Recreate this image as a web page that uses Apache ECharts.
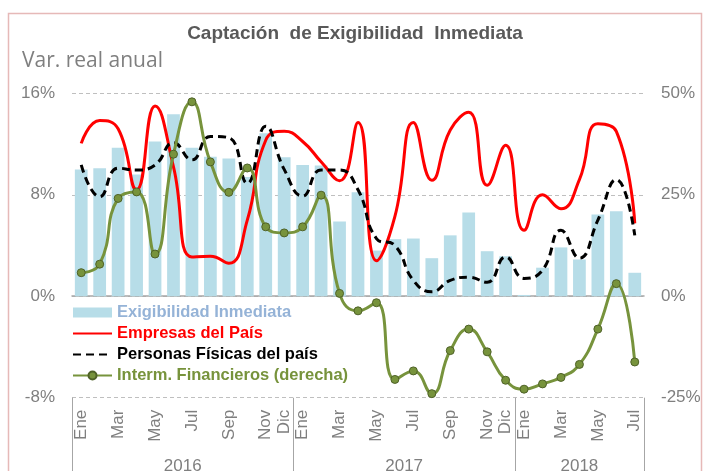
<!DOCTYPE html>
<html>
<head>
<meta charset="utf-8">
<script src="https://cdn.jsdelivr.net/npm/echarts@6/dist/echarts.min.js"></script>
<style>
  html, body { margin: 0; padding: 0; background: #fff; }
  #chart { width: 710px; height: 471px; }
</style>
</head>
<body>
<div id="chart"></div>
<script>
const years = ['2016', '2017', '2018']
const monthsPerYear = [12, 12, 7]
const monthNames = ['Ene', 'Feb', 'Mar', 'Abr', 'May', 'Jun', 'Jul', 'Ago', 'Sep', 'Oct', 'Nov', 'Dic']

const exigibilidad = [
  10.0, 10.1, 11.7, 9.6, 12.2, 14.35, 11.7, 11.0, 10.85, 9.4, 12.85, 10.95,
  10.35, 10.3, 5.9, 8.2, 3.6, 4.5, 4.55, 3.0, 4.8, 6.6, 3.55, 3.15,
  0.1, 2.25, 3.85, 2.9, 6.45, 6.7, 1.85
]
const empresas = [
  12.05, 13.85, 13.2, 8.4, 15.0, 10.2, 3.1, 3.15, 2.6, 6.0, 12.3, 13.0,
  12.2, 10.6, 9.1, 13.7, 2.8, 6.3, 13.7, 9.15, 13.1, 14.5, 8.75, 11.9,
  5.2, 8.0, 6.9, 9.2, 13.6, 13.0, 5.75
]
const personas = [
  10.35, 7.85, 10.1, 9.95, 10.35, 12.1, 10.75, 12.6, 12.5, 8.9, 13.4, 10.0,
  7.9, 9.95, 9.95, 8.4, 4.55, 4.0, 1.25, 0.35, 1.25, 1.5, 1.1, 3.1,
  1.4, 2.05, 5.2, 3.0, 6.0, 9.2, 4.8
]
const intermediarios = [
  5.8, 7.9, 24.1, 25.7, 10.4, 35.0, 47.9, 33.1, 25.6, 31.6, 17.1, 15.6,
  17.1, 24.9, 0.7, -3.6, -1.6, -20.5, -18.4, -24.0, -13.4, -8.1, -13.7, -20.7,
  -22.9, -21.6, -20.0, -16.8, -8.1, 3.1, -16.2
]

const leftTicks = { min: -8, max: 16, interval: 8 }
const rightTicks = { min: -25, max: 50, interval: 25 }

const categories = []
const yearStarts = []
years.forEach((y, i) => {
  yearStarts.push(categories.length)
  for (let m = 0; m < monthsPerYear[i]; m++) categories.push(monthNames[m])
})
const total = categories.length
const yearBounds = [...yearStarts, total]
const yearCenters = yearStarts.map((s, i) => s + monthsPerYear[i] / 2)

const gray = '#7f7f7f'
const font = 'Liberation Sans, Arial, sans-serif'
const colors = {
  bar: '#b7dde8',
  barText: '#95b3d7',
  red: '#ff0000',
  black: '#000000',
  green: '#77933c'
}
// hides the dot that echarts puts on line legend icons
const noDot = { color: 'transparent', borderColor: 'transparent', borderWidth: 0 }

const chart = echarts.init(document.getElementById('chart'))

chart.setOption({
  backgroundColor: '#fff',
  animation: false,
  textStyle: { fontFamily: font },
  title: [
    {
      text: 'Captación  de Exigibilidad  Inmediata',
      left: 'center',
      top: 19,
      textStyle: { fontSize: 19, fontWeight: 'bold', color: '#595959', fontFamily: font }
    },
    {
      text: 'Var. real anual',
      left: 17,
      top: 46,
      textStyle: { fontSize: 21, fontWeight: 'normal', color: gray, fontFamily: 'Open Sans, sans-serif' }
    }
  ],
  graphic: [{
    type: 'rect',
    shape: { x: 8.5, y: 13.5, width: 693, height: 480 },
    style: { fill: 'none', stroke: '#e6b9b8', lineWidth: 1.5 },
    silent: true
  }],
  legend: {
    orient: 'vertical',
    left: 72,
    top: 304,
    padding: 0,
    itemWidth: 39,
    itemHeight: 10,
    itemGap: 4,
    textStyle: { fontSize: 16.5, fontWeight: 'bold', fontFamily: font },
    data: [
      { name: 'Exigibilidad Inmediata', icon: 'rect', textStyle: { color: colors.barText } },
      { name: 'Empresas del País', itemStyle: noDot, textStyle: { color: colors.red } },
      { name: 'Personas Físicas del país', itemStyle: noDot, textStyle: { color: colors.black } },
      { name: 'Interm. Financieros (derecha)', textStyle: { color: colors.green } }
    ]
  },
  grid: {
    left: 72,
    right: 66,
    top: 93.3,
    bottom: 73.3,
    containLabel: false,
    outerBoundsMode: 'none'
  },
  xAxis: [
    {
      type: 'category',
      data: categories,
      position: 'bottom',
      axisLine: { show: false, onZero: false },
      axisTick: { show: false },
      axisLabel: {
        rotate: 90,
        margin: 12,
        color: gray,
        fontSize: 17,
        fontFamily: font,
        interval: (i) => (i % 12) % 2 === 0 || i % 12 === 11
      },
      splitLine: { show: false }
    },
    {
      type: 'value',
      min: 0,
      max: total,
      position: 'bottom',
      axisLine: { show: false, onZero: false },
      axisTick: {
        show: true,
        customValues: yearBounds,
        length: 76,
        lineStyle: { color: '#a6a6a6', width: 1 }
      },
      axisLabel: {
        customValues: yearCenters,
        margin: 60,
        color: gray,
        fontSize: 17,
        fontFamily: font,
        formatter: (v) => years[yearCenters.indexOf(v)] || ''
      },
      splitLine: { show: false }
    },
    {
      type: 'category',
      data: categories,
      position: 'bottom',
      axisLine: { show: true, onZero: true, onZeroAxisIndex: 0, lineStyle: { color: '#a6a6a6', width: 1.5 } },
      axisTick: { show: false },
      axisLabel: { show: false },
      splitLine: { show: false }
    }
  ],
  yAxis: [
    {
      type: 'value',
      ...leftTicks,
      axisLine: { show: false },
      axisTick: { show: false },
      axisLabel: { formatter: '{value}%', color: gray, fontSize: 17, margin: 17, fontFamily: font },
      splitLine: { show: true, lineStyle: { color: '#bfbfbf', type: [4, 3], width: 1 } }
    },
    {
      type: 'value',
      position: 'right',
      ...rightTicks,
      axisLine: { show: false },
      axisTick: { show: false },
      axisLabel: { formatter: '{value}%', color: gray, fontSize: 17, margin: 17, fontFamily: font },
      splitLine: { show: false }
    }
  ],
  series: [
    {
      name: 'Exigibilidad Inmediata',
      type: 'bar',
      data: exigibilidad,
      barCategoryGap: '31%',
      itemStyle: { color: colors.bar }
    },
    {
      name: 'Empresas del País',
      type: 'line',
      data: empresas,
      smooth: 0.5,
      symbol: 'none',
      lineStyle: { color: colors.red, width: 3 },
      itemStyle: { color: colors.red }
    },
    {
      name: 'Personas Físicas del país',
      type: 'line',
      data: personas,
      smooth: 0.5,
      symbol: 'none',
      lineStyle: { color: colors.black, width: 3, type: [8, 5] },
      itemStyle: { color: colors.black }
    },
    {
      name: 'Interm. Financieros (derecha)',
      type: 'line',
      yAxisIndex: 1,
      data: intermediarios,
      smooth: 0.5,
      symbol: 'circle',
      symbolSize: 8,
      lineStyle: { color: colors.green, width: 3 },
      itemStyle: { color: colors.green, borderColor: '#4f6228', borderWidth: 1 }
    }
  ]
})
</script>
</body>
</html>
